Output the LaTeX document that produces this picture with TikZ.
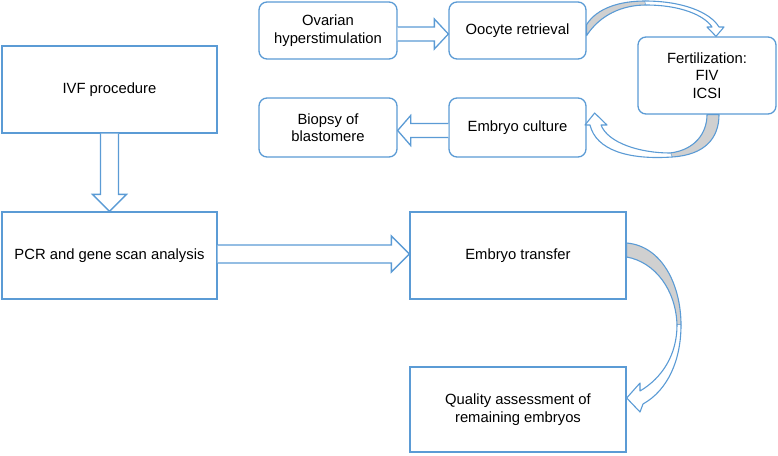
\documentclass[tikz,border=0pt]{standalone}
\usepackage{fontspec}
\setmainfont{Liberation Sans}
\usetikzlibrary{calc}
\definecolor{bl}{RGB}{91,155,213}
\definecolor{shade}{RGB}{208,208,208}
\begin{document}
\begin{tikzpicture}[x=1pt,y=-1pt,
  every node/.style={font=\fontsize{14.8}{17.5}\selectfont, text=black, align=center, inner sep=0pt},
  rbox/.style={draw=bl, line width=1.3pt, rounded corners=8pt, fill=white},
  sbox/.style={draw=bl, line width=1.3pt, fill=white},
  barrow/.style={draw=bl, line width=1.3pt, fill=white, line join=miter},
  carrow/.style={draw=bl, line width=1.1pt, fill=white, line join=round},
  cshade/.style={draw=bl, line width=1.1pt, fill=shade, line join=round}]
\useasboundingbox (0,0) rectangle (778,455);
% boxes
\node[rbox, minimum width=138pt, minimum height=57pt] (ovar) at (328,30.5) {Ovarian\\hyperstimulation};
\node[rbox, minimum width=137pt, minimum height=57pt] (oocyte) at (517.5,30.5) {Oocyte retrieval};
\node[rbox, minimum width=138pt, minimum height=77pt] (fert) at (707,75.5) {Fertilization:\\FIV\\ICSI};
\node[rbox, minimum width=138pt, minimum height=59pt] (biopsy) at (328,127.5) {Biopsy of\\blastomere};
\node[rbox, minimum width=137pt, minimum height=59pt] (culture) at (517.5,127.5) {Embryo culture};
\node[sbox, minimum width=215pt, minimum height=87pt] (ivf) at (109.5,89.5) {IVF procedure};
\node[sbox, minimum width=215pt, minimum height=87pt] (pcr) at (109.5,255.5) {PCR and gene scan analysis};
\node[sbox, minimum width=216pt, minimum height=87pt] (et) at (518,255.5) {Embryo transfer};
\node[sbox, minimum width=216pt, minimum height=85pt] (qa) at (518,409.5) {Quality assessment of\\remaining embryos};
% straight block arrows
\draw[barrow] ($(ovar.east)+(0,-3.5)$) -- ($(oocyte.west)+(-14,-3.5)$) -- ($(oocyte.west)+(-14,-11.5)$)
  -- ($(oocyte.west)+(0,3.5)$) -- ($(oocyte.west)+(-14,18.5)$) -- ($(oocyte.west)+(-14,10.5)$) -- ($(ovar.east)+(0,10.5)$);
\draw[barrow] ($(ivf.south)+(-9,0)$) -- ($(pcr.north)+(-9,-17)$) -- ($(pcr.north)+(-17,-17)$)
  -- (pcr.north) -- ($(pcr.north)+(17,-17)$) -- ($(pcr.north)+(9,-17)$) -- ($(ivf.south)+(9,0)$);
\draw[barrow] ($(pcr.east)+(0,-10.5)$) -- ($(et.west)+(-18,-10.5)$) -- ($(et.west)+(-18,-19.5)$)
  -- ($(et.west)+(0,-1.5)$) -- ($(et.west)+(-18,16.5)$) -- ($(et.west)+(-18,7.5)$) -- ($(pcr.east)+(0,7.5)$);
\draw[barrow] ($(culture.west)+(0,-4)$) -- ($(biopsy.east)+(13,-4)$) -- ($(biopsy.east)+(13,-12)$)
  -- ($(biopsy.east)+(0,3)$) -- ($(biopsy.east)+(13,18)$) -- ($(biopsy.east)+(13,10)$) -- ($(culture.west)+(0,10)$);
% curved arrow: oocyte -> fertilization
\coordinate (a1) at ($(oocyte.east)+(0,-6)$);
\coordinate (a2) at ($(oocyte.east)+(0,5)$);
\coordinate (at) at ($(fert.north)+(9,0)$);
\draw[cshade] (a1) .. controls (597,8) and (620,1) .. (645,1) -- (646,5) .. controls (622,5) and (600,15) .. (a2) -- cycle;
\draw[carrow] (645,1) .. controls (682,1) and (710,12) .. (719,27) -- (724,27) -- (at) -- (707,27) -- (712,27)
  .. controls (704,15) and (680,5) .. (646,5);
% curved arrow: fertilization -> embryo culture
\coordinate (b1) at ($(fert.south)+(12,0)$);
\coordinate (b2) at (fert.south);
\coordinate (bt) at ($(culture.east)+(8,-14.5)$);
\draw[cshade] (b1) .. controls (719,138) and (705,155) .. (672,157) -- (670,153) .. controls (695,150) and (707,133) .. (b2) -- cycle;
\draw[carrow] (672,157) .. controls (628,160) and (596,150) .. (590,125) -- (585,125) -- (bt) -- (607,125) -- (601,125)
  .. controls (608,143) and (640,153) .. (670,153);
% curved arrow: embryo transfer -> quality assessment
\coordinate (c1) at ($(et.east)+(0,-12.5)$);
\coordinate (c2) at ($(et.east)+(0,1.5)$);
\coordinate (ct) at ($(qa.east)+(0,-11.5)$);
\draw[cshade] (c1) .. controls (662,246) and (681,285) .. (681,325) -- (677,325) .. controls (676,290) and (655,262) .. (c2) -- cycle;
\draw[carrow] (681,325) .. controls (681,360) and (668,390) .. (643,404) -- (640,412) -- (ct) -- (640,383) -- (640,391)
  .. controls (662,378) and (677,355) .. (677,325);
\end{tikzpicture}
\end{document}
